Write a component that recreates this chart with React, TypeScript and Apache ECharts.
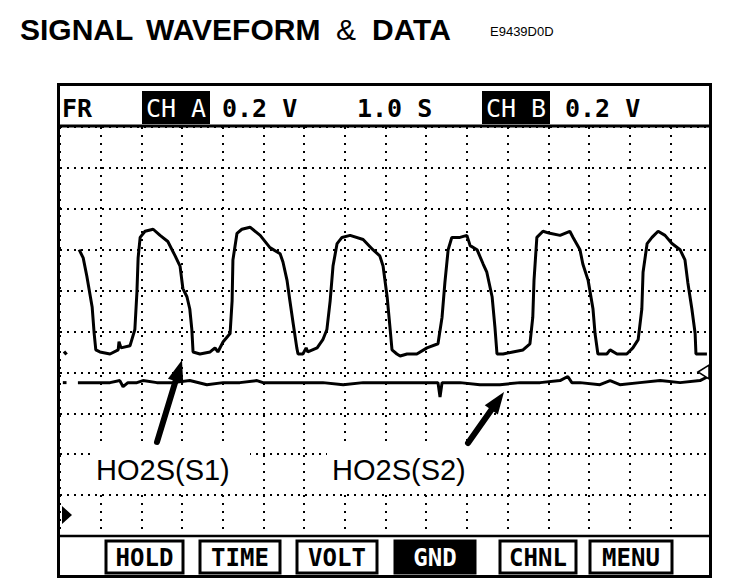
import { useEffect, useRef } from "react";
import * as echarts from "echarts";

// Channel A: HO2S(S1) — time (s, 1.0 s/div) and voltage (V, 0.2 V/div)
const s1Time = [
  0.47, 0.57, 0.66, 0.79, 0.84, 0.88, 0.98, 1.23, 1.43, 1.45,
  1.5, 1.72, 1.84, 1.89, 1.92, 1.97, 2.09, 2.29, 2.46, 2.65,
  2.83, 2.95, 3.02, 3.12, 3.19, 3.24, 3.27, 3.44, 3.69, 3.81,
  3.88, 4.01, 4.18, 4.23, 4.25, 4.35, 4.47, 4.67, 4.92, 5.16,
  5.41, 5.48, 5.58, 5.65, 5.73, 5.82, 5.85, 5.97, 6.05, 6.09,
  6.32, 6.46, 6.56, 6.64, 6.71, 6.81, 6.93, 7.13, 7.45, 7.69,
  7.86, 7.94, 8.04, 8.11, 8.16, 8.28, 8.36, 8.53, 8.77, 9.02,
  9.29, 9.39, 9.46, 9.54, 9.63, 9.83, 10.0, 10.08, 10.25, 10.4,
  10.49, 10.62, 10.69, 10.74, 10.89, 11.13, 11.38, 11.55, 11.62, 11.65,
  11.72, 11.87, 12.04, 12.29, 12.53, 12.61, 12.78, 12.85, 12.98, 13.1,
  13.15, 13.22, 13.44, 13.52, 13.69, 13.93, 14.08, 14.21, 14.3, 14.33,
  14.43, 14.55, 14.7, 14.87, 15.04, 15.24, 15.36, 15.43, 15.53, 15.61,
  15.63, 15.8, 15.9,
];
const s1Volt = [
  1.4, 1.36, 1.27, 1.12, 0.99, 0.91, 0.9, 0.89, 0.91, 0.95,
  0.92, 0.93, 1.01, 1.19, 1.36, 1.46, 1.49, 1.5, 1.47, 1.44,
  1.37, 1.32, 1.21, 1.17, 1.11, 1.01, 0.9, 0.89, 0.9, 0.92,
  0.9, 0.95, 0.99, 1.15, 1.35, 1.48, 1.5, 1.51, 1.47, 1.41,
  1.38, 1.34, 1.25, 1.15, 1.04, 0.92, 0.89, 0.89, 0.92, 0.9,
  0.92, 0.96, 1.01, 1.15, 1.32, 1.43, 1.46, 1.47, 1.45, 1.4,
  1.37, 1.32, 1.17, 1.02, 0.91, 0.89, 0.88, 0.89, 0.89, 0.92,
  0.94, 1.07, 1.24, 1.4, 1.46, 1.46, 1.47, 1.42, 1.4, 1.33,
  1.29, 1.17, 1.02, 0.89, 0.89, 0.9, 0.91, 0.94, 1.07, 1.25,
  1.46, 1.49, 1.48, 1.47, 1.49, 1.46, 1.4, 1.33, 1.25, 1.11,
  0.99, 0.89, 0.89, 0.91, 0.89, 0.89, 0.92, 0.96, 1.11, 1.29,
  1.43, 1.46, 1.49, 1.47, 1.43, 1.4, 1.35, 1.24, 1.11, 0.99,
  0.89, 0.89, 0.89,
];
// isolated start trace fragments at the left edge
const s1StartTime = [0.1, 0.16];
const s1StartVolt = [0.89, 0.9];
const s2StartTime = [0.07, 0.16];
const s2StartVolt = [0.75, 0.75];

// Channel B: HO2S(S2)
const s2Time = [
  0.44, 0.81, 1.23, 1.47, 1.55, 1.67, 1.89, 2.04, 2.38, 2.78,
  3.19, 3.61, 4.01, 4.42, 4.84, 4.99, 5.48, 5.97, 6.46, 6.96,
  7.45, 7.94, 8.18, 8.68, 9.29, 9.34, 9.39, 9.83, 10.32, 10.81,
  11.31, 11.8, 12.29, 12.48, 12.58, 12.78, 13.27, 13.52, 13.76, 14.25,
  14.75, 15.24, 15.73, 15.93,
];
const s2Volt = [
  0.75, 0.75, 0.75, 0.76, 0.73, 0.75, 0.75, 0.76, 0.75, 0.75,
  0.76, 0.74, 0.75, 0.75, 0.76, 0.75, 0.75, 0.75, 0.75, 0.74,
  0.75, 0.75, 0.75, 0.75, 0.75, 0.68, 0.75, 0.75, 0.74, 0.74,
  0.75, 0.75, 0.76, 0.78, 0.75, 0.75, 0.74, 0.76, 0.74, 0.75,
  0.76, 0.75, 0.76, 0.78,
];

// Axis scale: 16 time divisions of 1.0 s, 10 voltage divisions of 0.2 V
const timeDivisions = 16;
const timePerDiv = 1.0;
const voltDivisions = 10;
const voltPerDiv = 0.2;

const titleWords = ["SIGNAL", "WAVEFORM", "&", "DATA"];
const figureCode = "E9439D0D";
const headerTexts = ["FR", "CH A", "0.2 V", "1.0 S", "CH B", "0.2 V"];
const buttonLabels = ["HOLD", "TIME", "VOLT", "GND", "CHNL", "MENU"];
const seriesLabels = ["HO2S(S1)", "HO2S(S2)"];

// Layout (pixels)
const titleX = [20, 146, 336, 372];
const headerX = [62, 176, 222, 357, 516, 565];
const headerInverted = [false, true, false, false, true, false];
const buttonX = [106, 200, 297, 395, 500, 590];
const buttonW = [77, 80, 80, 80, 76, 82];
const buttonInverted = [false, false, false, true, false, false];

const MONO = '"DejaVu Sans Mono", "Liberation Mono", monospace';
const SANS = '"Liberation Sans", Arial, sans-serif';

function arrow(tail: number[], tip: number[]) {
  const dx = tip[0] - tail[0];
  const dy = tip[1] - tail[1];
  const len = Math.hypot(dx, dy);
  const ux = dx / len;
  const uy = dy / len;
  const headL = 22;
  const headW = 8;
  const bx = tip[0] - headL * ux;
  const by = tip[1] - headL * uy;
  const nx = -uy;
  const ny = ux;
  return [
    {
      type: "line",
      shape: { x1: tail[0], y1: tail[1], x2: bx + 2 * ux, y2: by + 2 * uy },
      style: { stroke: "#000", lineWidth: 6, lineCap: "round" },
      z: 20,
    },
    {
      type: "polygon",
      shape: {
        points: [
          [tip[0], tip[1]],
          [bx + headW * nx, by + headW * ny],
          [bx - headW * nx, by - headW * ny],
        ],
      },
      style: { fill: "#000" },
      z: 20,
    },
  ];
}

export default function App() {
  const ref = useRef<HTMLDivElement>(null);

  useEffect(() => {
    document.body.style.margin = "0";
    const chart = echarts.init(ref.current!, null, { renderer: "svg" });

    const gridLine = (dash: number[]) => ({
      show: true,
      lineStyle: { color: "#000", width: 2, type: dash },
    });

    const graphics: any[] = [];

    // Title
    titleWords.forEach((w, i) => {
      graphics.push({
        type: "text",
        x: titleX[i],
        y: 29,
        style: {
          text: w,
          font: `${w === "&" ? "normal" : "bold"} 30px ${SANS}`,
          fill: "#000",
          textVerticalAlign: "middle",
          verticalAlign: "middle",
        },
      });
    });
    graphics.push({
      type: "text",
      x: 490,
      y: 31,
      style: {
        text: figureCode,
        font: `13px ${SANS}`,
        fill: "#000",
        textVerticalAlign: "middle",
        verticalAlign: "middle",
      },
    });

    // Header
    headerTexts.forEach((t, i) => {
      const inv = headerInverted[i];
      if (inv) {
        graphics.push({
          type: "rect",
          shape: { x: headerX[i] - 34, y: 91, width: 68, height: 33 },
          style: { fill: "#000" },
        });
      }
      graphics.push({
        type: "text",
        x: headerX[i],
        y: 108,
        style: {
          text: t,
          font: `${inv ? "normal" : "bold"} 25px ${MONO}`,
          fill: inv ? "#fff" : "#000",
          textAlign: inv ? "center" : "left",
          align: inv ? "center" : "left",
          textVerticalAlign: "middle",
          verticalAlign: "middle",
        },
      });
    });

    // Buttons
    buttonLabels.forEach((b, i) => {
      const inv = buttonInverted[i];
      graphics.push({
        type: "rect",
        shape: { x: buttonX[i], y: 541, width: buttonW[i], height: 32 },
        style: { fill: inv ? "#000" : "#fff", stroke: "#000", lineWidth: 3 },
      });
      graphics.push({
        type: "text",
        x: buttonX[i] + buttonW[i] / 2,
        y: 558,
        style: {
          text: b,
          font: `bold 24px ${MONO}`,
          fill: inv ? "#fff" : "#000",
          textAlign: "center",
          align: "center",
          textVerticalAlign: "middle",
          verticalAlign: "middle",
        },
      });
    });

    // Frame and separators
    graphics.push({
      type: "rect",
      shape: { x: 58.5, y: 84.5, width: 652, height: 492 },
      style: { fill: "none", stroke: "#000", lineWidth: 3 },
      z: 30,
    });
    graphics.push({
      type: "line",
      shape: { x1: 58, y1: 126, x2: 711, y2: 126 },
      style: { stroke: "#000", lineWidth: 3 },
      z: 30,
    });
    graphics.push({
      type: "line",
      shape: { x1: 58, y1: 536, x2: 711, y2: 536 },
      style: { stroke: "#000", lineWidth: 2.5 },
      z: 30,
    });

    // Channel markers
    graphics.push({
      type: "polygon",
      shape: { points: [[62, 506], [72, 515], [62, 524]] },
      style: { fill: "#000" },
      z: 20,
    });
    graphics.push({
      type: "polygon",
      shape: { points: [[698, 372], [709, 365], [709, 379]] },
      style: { fill: "#fff", stroke: "#000", lineWidth: 1.5 },
      z: 20,
    });

    // Annotation labels with white backing
    const labelBoxes = [
      { x: 90, tx: 96 },
      { x: 327, tx: 332 },
    ];
    seriesLabels.forEach((l, i) => {
      graphics.push({
        type: "rect",
        shape: { x: labelBoxes[i].x, y: 447, width: 160, height: 45 },
        style: { fill: "#fff" },
        z: 15,
      });
      graphics.push({
        type: "text",
        x: labelBoxes[i].tx,
        y: 470,
        style: {
          text: l,
          font: `29px ${SANS}`,
          fill: "#000",
          textVerticalAlign: "middle",
          verticalAlign: "middle",
        },
        z: 16,
      });
    });

    graphics.push(...arrow([157, 442], [182, 360]));
    graphics.push(...arrow([468, 443], [504, 392]));

    const trace = (name: string, t: number[], v: number[], w: number) => ({
      name,
      type: "line",
      data: t.map((x, i) => [x, v[i]]),
      showSymbol: false,
      lineStyle: { color: "#000", width: w },
      z: 5,
    });

    chart.setOption({
      animation: false,
      backgroundColor: "#fff",
      grid: { left: 60, top: 127, width: 651, height: 409 },
      xAxis: {
        type: "value",
        min: 0,
        max: timeDivisions * timePerDiv,
        interval: timePerDiv,
        axisLine: { show: false },
        axisTick: { show: false },
        axisLabel: { show: false },
        splitLine: gridLine([2, 6]),
      },
      yAxis: {
        type: "value",
        min: 0,
        max: voltDivisions * voltPerDiv,
        interval: voltPerDiv,
        axisLine: { show: false },
        axisTick: { show: false },
        axisLabel: { show: false },
        splitLine: gridLine([2, 5]),
      },
      series: [
        trace(seriesLabels[0], s1Time, s1Volt, 3),
        trace(seriesLabels[1], s2Time, s2Volt, 3),
        trace(seriesLabels[0] + " start", s1StartTime, s1StartVolt, 4),
        trace(seriesLabels[1] + " start", s2StartTime, s2StartVolt, 3),
      ],
      graphic: graphics,
    });

    return () => chart.dispose();
  }, []);

  return <div ref={ref} style={{ width: 736, height: 588, background: "#fff" }} />;
}
